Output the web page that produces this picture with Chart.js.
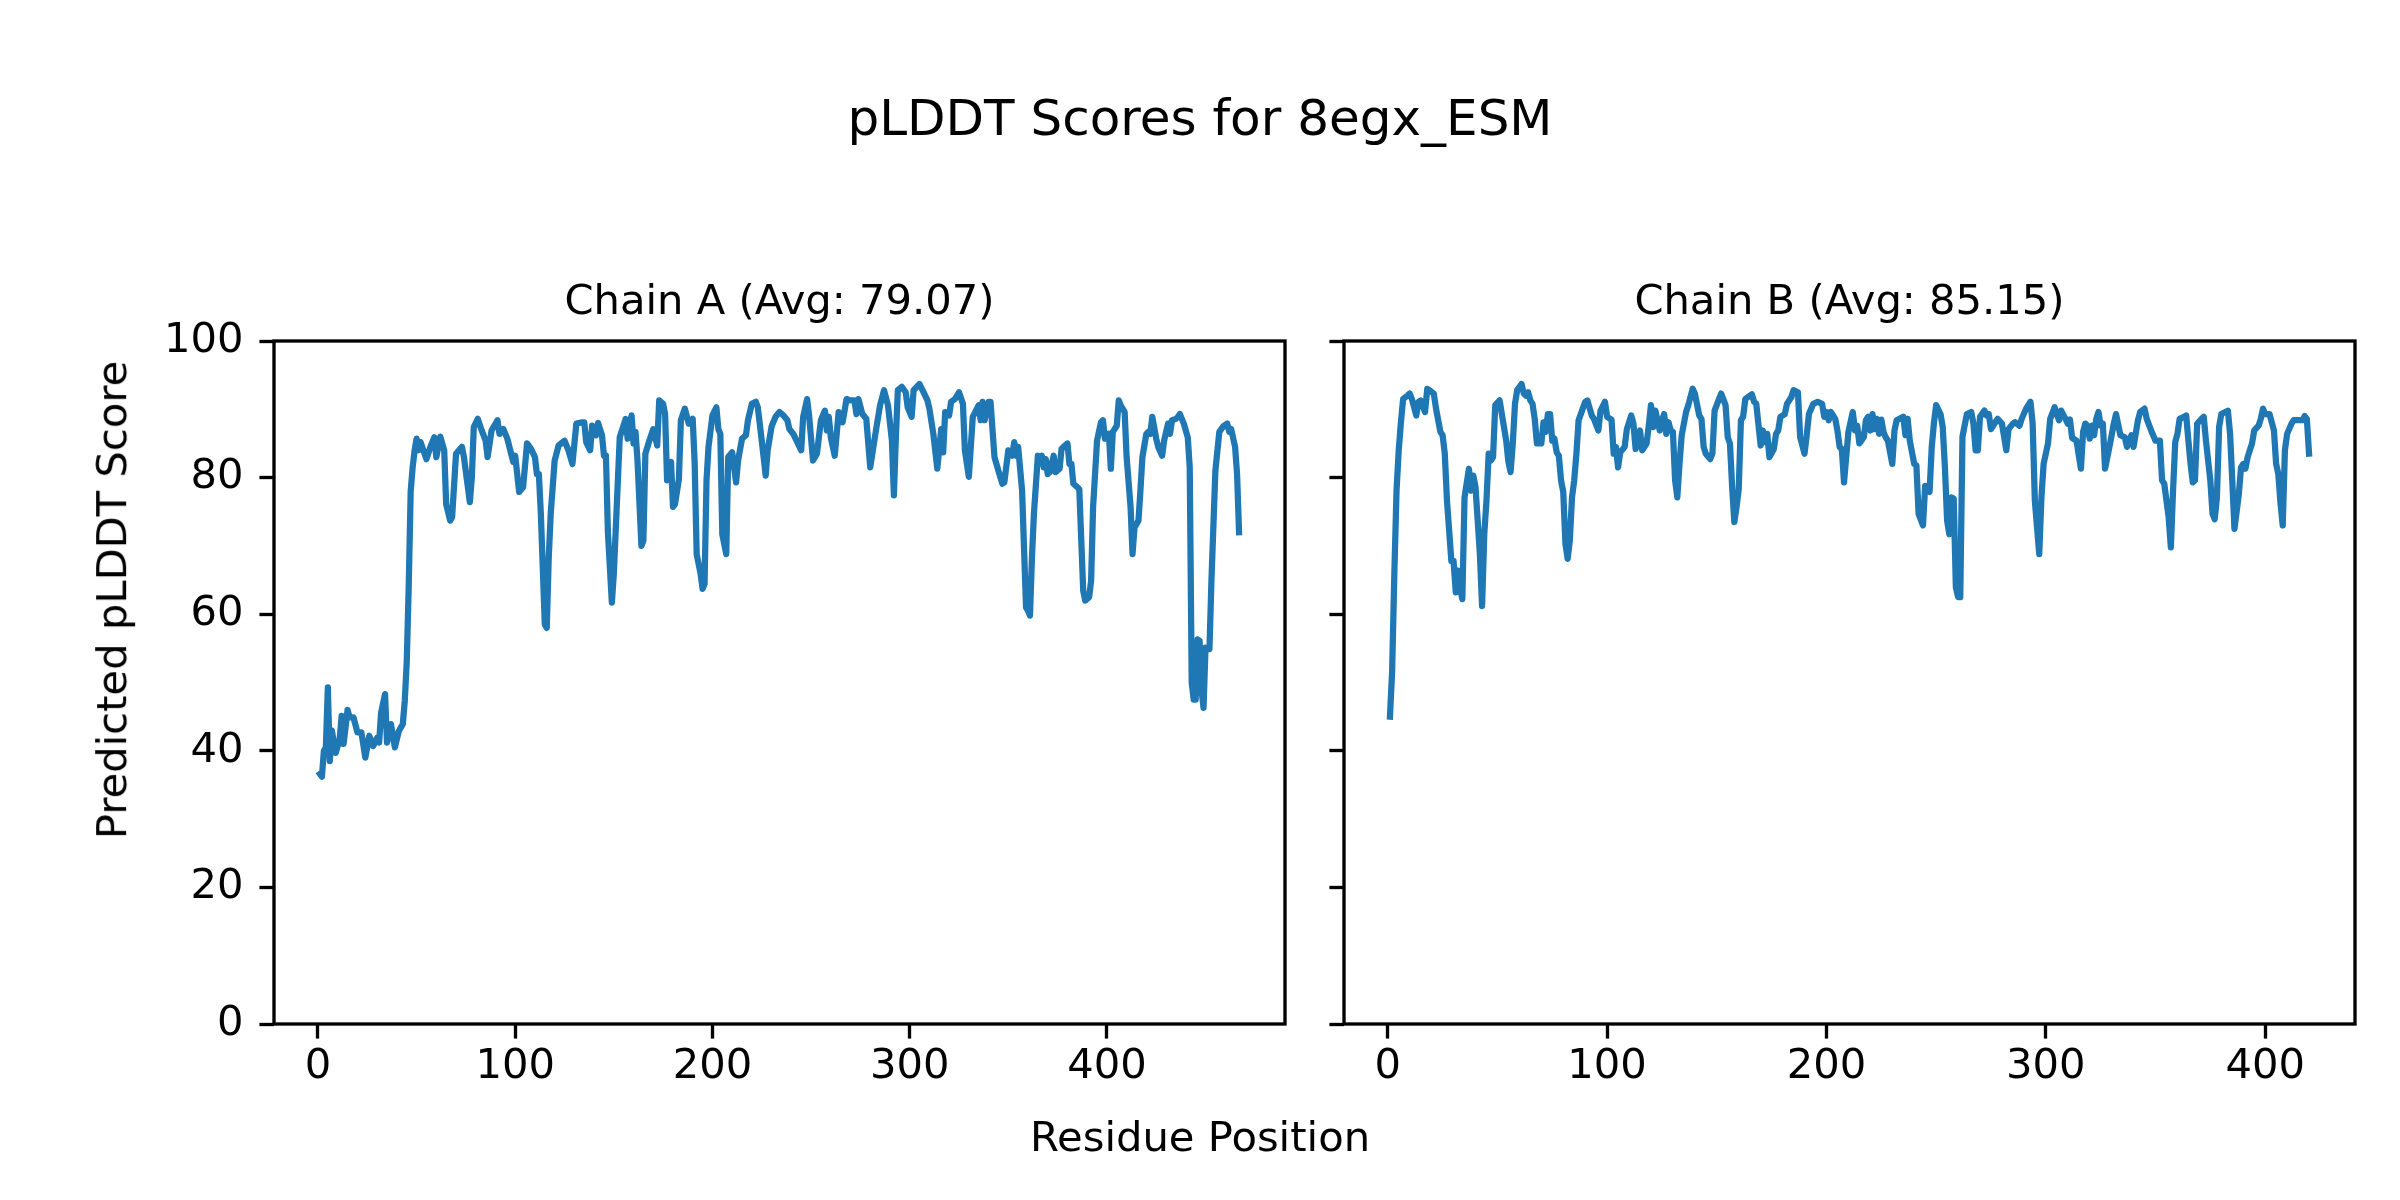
<!DOCTYPE html>
<html>
<head>
<meta charset="utf-8">
<script src="https://cdn.jsdelivr.net/npm/chart.js@4.4.1/dist/chart.umd.min.js"></script>
<style>
  body { margin: 0; background: #fff; }
  #page { position: relative; width: 2400px; height: 1200px; overflow: hidden; font-family: "DejaVu Sans", sans-serif; color: #000; }
  canvas { position: absolute; top: 0; }
  .txt { position: absolute; white-space: nowrap; line-height: 1; }
</style>
</head>
<body>
<div id="page">
  <canvas id="chain-a" width="1300" height="1200" style="left:0"></canvas>
  <canvas id="chain-b" width="1100" height="1200" style="left:1300px"></canvas>
  <div class="txt" id="suptitle" style="left:0; width:2400px; top:118px; text-align:center; font-size:50px; transform:translateY(-50%)">pLDDT Scores for 8egx_ESM</div>
  <div class="txt" id="xlabel" style="left:0; width:2400px; top:1137px; text-align:center; font-size:41.7px; transform:translateY(-50%)">Residue Position</div>
  <div class="txt" id="ylabel" style="left:112px; top:600px; font-size:41.7px; transform:translate(-50%,-50%) rotate(-90deg)">Predicted pLDDT Score</div>
</div>
<script>
// pLDDT per residue (sparse samples)
const residuesA = [1, 2, 3, 4, 5, 6, 7, 9, 11, 12, 13, 15, 16, 18, 20, 22, 24, 26, 28, 30, 31, 32, 34, 35, 37, 39, 41, 43, 44, 45, 46, 47, 48, 49, 50, 51, 52, 55, 57, 59, 60, 62, 64, 65, 67, 68, 70, 73, 74, 77, 78, 79, 81, 83, 85, 86, 88, 91, 92, 94, 96, 99, 100, 102, 104, 106, 108, 110, 111, 112, 113, 115, 116, 117, 118, 120, 122, 125, 127, 129, 131, 134, 135, 136, 138, 139, 141, 142, 144, 145, 146, 147, 149, 150, 153, 156, 157, 159, 160, 161, 162, 164, 165, 166, 168, 170, 172, 173, 175, 176, 177, 179, 180, 181, 183, 184, 186, 188, 190, 191, 192, 194, 195, 196, 197, 198, 200, 202, 203, 204, 205, 207, 208, 210, 212, 213, 215, 217, 218, 220, 222, 223, 225, 227, 228, 230, 232, 234, 236, 238, 239, 241, 243, 245, 246, 248, 249, 251, 253, 255, 257, 258, 259, 260, 262, 264, 266, 268, 270, 272, 273, 274, 276, 278, 280, 283, 285, 287, 289, 291, 292, 293, 294, 296, 298, 299, 301, 302, 305, 307, 309, 310, 312, 314, 316, 317, 318, 320, 321, 323, 325, 327, 328, 330, 332, 335, 336, 337, 338, 340, 341, 342, 343, 345, 347, 348, 350, 352, 353, 354, 355, 357, 359, 360, 361, 362, 363, 365, 366, 367, 368, 369, 370, 371, 373, 374, 376, 377, 378, 380, 381, 382, 383, 385, 386, 388, 389, 391, 392, 393, 395, 397, 398, 399, 401, 402, 403, 405, 406, 407, 409, 410, 412, 413, 414, 416, 417, 418, 420, 421, 422, 423, 425, 426, 428, 429, 431, 432, 433, 435, 436, 437, 439, 441, 442, 443, 444, 445, 446, 447, 448, 449, 450, 452, 453, 455, 457, 459, 461, 462, 463, 465, 466, 467];
const scoresA = [36.6, 36.2, 40.0, 40.5, 49.3, 38.5, 43.0, 39.7, 41.7, 45.1, 41.0, 46.0, 44.9, 44.9, 42.7, 42.7, 39.0, 42.2, 40.7, 41.9, 41.2, 45.6, 48.3, 41.2, 43.9, 40.5, 42.9, 43.9, 47.3, 53.0, 64.0, 78.0, 81.5, 84.0, 85.7, 84.0, 85.2, 82.7, 84.5, 85.9, 83.0, 86.0, 84.0, 76.1, 73.7, 74.2, 83.5, 84.5, 83.0, 76.4, 80.0, 87.4, 88.6, 86.9, 85.4, 83.0, 86.9, 88.4, 86.4, 87.1, 85.7, 82.3, 83.2, 77.9, 78.6, 85.0, 84.2, 83.0, 80.5, 80.5, 74.7, 58.5, 58.0, 68.3, 74.7, 82.5, 84.7, 85.4, 84.0, 82.0, 87.9, 88.1, 88.1, 85.2, 84.0, 87.6, 86.2, 88.0, 86.2, 83.2, 83.2, 72.0, 61.7, 65.9, 85.9, 88.6, 85.7, 89.1, 85.0, 86.7, 82.5, 70.0, 70.8, 83.5, 85.4, 87.1, 84.7, 91.3, 90.8, 89.3, 79.6, 82.3, 75.7, 76.1, 79.8, 88.4, 90.1, 87.9, 88.6, 82.0, 68.8, 65.9, 63.7, 64.4, 79.6, 84.5, 89.1, 90.3, 87.1, 86.4, 71.7, 68.8, 83.0, 83.7, 79.3, 82.5, 85.7, 86.2, 88.4, 90.8, 91.1, 90.3, 85.4, 80.3, 84.0, 87.5, 88.9, 89.6, 89.1, 88.4, 87.1, 86.4, 85.2, 84.0, 88.9, 91.5, 89.1, 82.5, 83.5, 88.4, 89.8, 86.9, 88.9, 85.9, 83.2, 89.6, 88.1, 91.5, 91.3, 91.3, 89.3, 91.5, 89.3, 88.6, 81.5, 87.1, 90.6, 92.8, 90.6, 85.4, 77.4, 85.9, 92.8, 93.3, 92.5, 90.3, 88.9, 92.8, 93.7, 92.5, 91.3, 90.1, 86.4, 81.3, 87.1, 83.7, 89.6, 89.1, 91.1, 91.5, 92.5, 90.8, 84.0, 80.1, 88.9, 90.6, 88.4, 91.1, 88.4, 91.1, 91.1, 87.0, 83.0, 81.0, 79.1, 79.3, 84.0, 83.2, 85.2, 83.2, 84.5, 78.1, 61.0, 60.5, 59.8, 68.3, 74.7, 83.2, 82.5, 83.2, 81.5, 82.7, 80.5, 80.8, 83.2, 80.8, 81.3, 84.2, 84.5, 85.0, 82.0, 82.0, 79.1, 78.6, 78.3, 63.4, 62.0, 62.5, 64.9, 75.7, 85.4, 88.1, 88.4, 85.7, 86.4, 81.3, 86.7, 87.6, 91.3, 90.6, 89.6, 83.0, 75.7, 68.8, 72.7, 73.7, 78.1, 83.0, 86.4, 86.7, 86.4, 88.9, 85.7, 84.5, 83.2, 85.4, 87.9, 86.4, 88.4, 88.6, 88.9, 89.3, 87.9, 85.9, 81.5, 50.0, 47.5, 47.5, 56.3, 56.1, 48.8, 46.3, 55.1, 54.9, 64.9, 81.0, 86.7, 87.5, 87.9, 86.7, 87.1, 84.5, 80.5, 72.0];

const residuesB = [1, 2, 3, 4, 5, 6, 7, 9, 10, 11, 13, 14, 15, 17, 18, 19, 21, 22, 24, 25, 26, 27, 29, 30, 31, 32, 33, 34, 35, 37, 38, 39, 40, 42, 43, 44, 45, 46, 47, 48, 49, 51, 52, 54, 55, 56, 57, 58, 59, 61, 62, 63, 64, 65, 66, 67, 68, 70, 71, 72, 73, 74, 75, 76, 77, 78, 79, 80, 81, 82, 83, 84, 85, 86, 87, 88, 90, 91, 93, 94, 96, 97, 99, 100, 102, 103, 104, 105, 106, 108, 109, 111, 112, 113, 115, 116, 118, 119, 120, 121, 122, 124, 125, 126, 127, 128, 129, 130, 131, 132, 133, 134, 136, 137, 139, 140, 142, 143, 144, 145, 147, 148, 149, 151, 152, 154, 155, 156, 157, 158, 159, 160, 161, 162, 163, 166, 167, 168, 170, 171, 172, 173, 174, 176, 177, 178, 179, 181, 182, 184, 185, 187, 188, 190, 191, 192, 194, 196, 198, 199, 200, 201, 202, 204, 205, 206, 207, 208, 210, 212, 213, 214, 215, 217, 218, 219, 220, 221, 222, 223, 224, 225, 226, 227, 228, 230, 231, 232, 235, 236, 237, 238, 240, 241, 242, 244, 245, 247, 248, 249, 250, 252, 253, 254, 255, 256, 257, 258, 259, 260, 261, 262, 264, 266, 267, 268, 269, 270, 272, 273, 274, 275, 277, 278, 280, 282, 283, 285, 286, 288, 289, 291, 293, 294, 295, 296, 297, 298, 299, 301, 302, 304, 306, 307, 309, 310, 311, 312, 314, 316, 317, 318, 319, 320, 321, 322, 323, 324, 325, 326, 327, 329, 331, 332, 334, 336, 337, 339, 340, 342, 343, 345, 346, 348, 350, 351, 352, 353, 354, 356, 357, 358, 359, 360, 361, 363, 364, 365, 366, 367, 368, 369, 371, 372, 373, 375, 376, 377, 378, 379, 380, 383, 384, 385, 386, 388, 389, 390, 391, 392, 393, 394, 395, 397, 398, 399, 400, 402, 403, 404, 405, 406, 407, 408, 409, 410, 412, 413, 416, 417, 418, 419, 420];
const scoresB = [45.0, 51.7, 65.9, 78.1, 84.0, 88.1, 91.5, 92.0, 92.3, 91.5, 89.1, 91.1, 91.3, 89.6, 93.0, 92.8, 92.3, 90.1, 86.7, 86.2, 83.5, 76.6, 67.8, 67.8, 63.2, 66.4, 63.7, 62.2, 77.1, 81.3, 78.1, 80.3, 78.6, 68.8, 61.2, 71.7, 76.6, 83.5, 82.5, 83.0, 90.6, 91.3, 89.3, 85.4, 82.3, 80.8, 85.0, 90.8, 92.8, 93.7, 92.3, 92.0, 92.5, 91.3, 90.8, 88.6, 85.0, 85.0, 88.1, 86.7, 89.3, 89.3, 85.4, 85.7, 83.7, 83.2, 79.6, 77.9, 70.3, 68.1, 70.8, 77.1, 79.6, 83.5, 88.4, 89.3, 91.1, 91.3, 89.1, 88.6, 86.9, 89.8, 91.1, 88.9, 88.5, 83.5, 84.5, 81.5, 83.7, 84.5, 87.1, 89.1, 87.9, 84.2, 86.9, 84.0, 85.0, 87.6, 90.6, 87.4, 89.8, 86.9, 88.4, 89.3, 86.4, 88.1, 86.9, 86.7, 79.6, 77.1, 82.0, 86.2, 89.6, 90.6, 93.0, 92.3, 89.1, 88.6, 84.5, 83.5, 82.7, 83.5, 89.8, 91.5, 92.3, 90.6, 85.9, 85.0, 78.6, 73.5, 75.7, 78.3, 88.4, 88.9, 91.5, 92.2, 91.1, 90.8, 84.7, 86.9, 85.2, 86.4, 83.0, 84.2, 86.4, 86.9, 88.9, 89.3, 90.8, 91.8, 92.8, 92.5, 85.9, 83.5, 86.2, 89.3, 90.8, 91.1, 90.8, 88.9, 89.6, 88.4, 89.6, 88.6, 86.9, 84.5, 84.2, 79.3, 86.7, 89.6, 86.9, 87.6, 85.0, 85.9, 88.4, 88.9, 86.9, 89.3, 87.1, 88.6, 86.4, 88.5, 86.7, 85.9, 85.4, 82.0, 86.9, 88.4, 88.9, 86.2, 88.6, 85.4, 82.0, 81.8, 74.7, 73.0, 78.8, 77.9, 84.5, 88.0, 90.6, 89.3, 87.4, 81.5, 73.7, 71.7, 77.1, 76.9, 63.9, 62.5, 62.5, 86.0, 89.3, 89.6, 87.9, 84.0, 84.0, 88.9, 89.8, 89.1, 89.3, 87.1, 88.1, 88.6, 87.9, 84.0, 87.1, 87.9, 88.1, 87.6, 88.6, 90.1, 91.1, 87.9, 76.6, 72.7, 68.8, 77.1, 82.0, 85.0, 88.6, 90.3, 88.4, 89.8, 88.6, 87.9, 88.5, 85.8, 85.4, 81.3, 86.7, 87.9, 87.6, 85.7, 87.6, 86.2, 88.6, 89.6, 87.6, 87.9, 81.3, 84.5, 87.9, 89.3, 86.2, 85.9, 84.5, 86.2, 84.5, 88.4, 89.6, 90.1, 88.6, 86.9, 85.4, 85.4, 85.4, 79.6, 79.1, 74.2, 69.8, 78.1, 85.2, 86.4, 88.6, 88.9, 89.1, 85.4, 82.0, 79.3, 79.6, 87.9, 88.6, 88.9, 85.4, 79.6, 74.7, 73.9, 77.1, 87.4, 89.3, 89.8, 86.4, 79.6, 72.5, 77.6, 81.5, 82.0, 81.3, 83.0, 84.0, 85.0, 86.9, 87.6, 88.6, 90.1, 89.3, 89.3, 88.1, 86.9, 82.0, 80.5, 76.2, 73.0, 84.0, 86.4, 87.9, 88.4, 88.4, 88.4, 89.0, 88.6, 83.5];

const titleA = 'Chain A (Avg: 79.07)';
const titleB = 'Chain B (Avg: 85.15)';
const yTicks = [0, 20, 40, 60, 80, 100];

const FONT = '"DejaVu Sans", sans-serif';
const PX = 300 / 72; // matplotlib points -> pixels at 300 dpi
const LINE_BLUE = '#1f77b4';

// draws the four spines round the plot area
const framePlugin = {
    id: 'frame',
    afterDraw(chart) {
        const { ctx, chartArea } = chart;
        ctx.save();
        ctx.strokeStyle = '#000';
        ctx.lineWidth = 0.8 * PX;
        ctx.strokeRect(chartArea.left, chartArea.top, chartArea.right - chartArea.left, chartArea.bottom - chartArea.top);
        ctx.restore();
    }
};

function makePanel(canvasId, residues, scores, title, opts) {
    const points = residues.map((r, i) => ({ x: r, y: scores[i] }));
    const tickFont = { family: FONT, size: 10 * PX };
    const gridOpts = {
        drawOnChartArea: false,
        drawTicks: true,
        tickLength: 3.5 * PX,
        tickWidth: 0.8 * PX,
        tickColor: '#000'
    };

    return new Chart(document.getElementById(canvasId), {
        type: 'line',
        data: {
            datasets: [{
                data: points,
                borderColor: LINE_BLUE,
                borderWidth: 1.5 * PX,
                borderJoinStyle: 'round',
                borderCapStyle: 'square',
                pointRadius: 0,
                tension: 0,
                fill: false
            }]
        },
        options: {
            responsive: false,
            animation: false,
            devicePixelRatio: 1,
            layout: { padding: { top: 0, left: 0, right: opts.padRight, bottom: 76 } },
            plugins: {
                legend: { display: false },
                tooltip: { enabled: false },
                title: {
                    display: true,
                    fullSize: false,  // centre over the plot area, not the canvas
                    text: title,
                    color: '#000',
                    font: { family: FONT, size: 10 * PX, weight: 'normal' },
                    padding: { top: 278, bottom: 13 }
                }
            },
            scales: {
                x: {
                    type: 'linear',
                    min: opts.xMin,
                    max: opts.xMax,
                    grid: gridOpts,
                    border: { display: false },
                    ticks: {
                        stepSize: 100,
                        includeBounds: false,
                        autoSkip: false,
                        maxRotation: 0,
                        padding: 4,
                        color: '#000',
                        font: tickFont
                    },
                    afterFit: (scale) => { scale.height = 100; }
                },
                y: {
                    min: 0,
                    max: 100,
                    grid: gridOpts,
                    border: { display: false },
                    afterBuildTicks: (scale) => { scale.ticks = yTicks.map(v => ({ value: v })); },
                    ticks: {
                        padding: 16,
                        color: '#000',
                        font: tickFont,
                        callback: opts.showYLabels ? (v) => v : () => ''
                    },
                    afterFit: (scale) => { scale.width = opts.yWidth; }
                }
            }
        },
        plugins: [framePlugin]
    });
}

document.addEventListener('DOMContentLoaded', () => {
    makePanel('chain-a', residuesA, scoresA, titleA, {
        xMin: -22.3, xMax: 490.3, padRight: 15, yWidth: 274, showYLabels: true
    });
    makePanel('chain-b', residuesB, scoresB, titleB, {
        xMin: -19.95, xMax: 440.95, padRight: 45, yWidth: 44, showYLabels: false
    });
});
</script>
</body>
</html>
